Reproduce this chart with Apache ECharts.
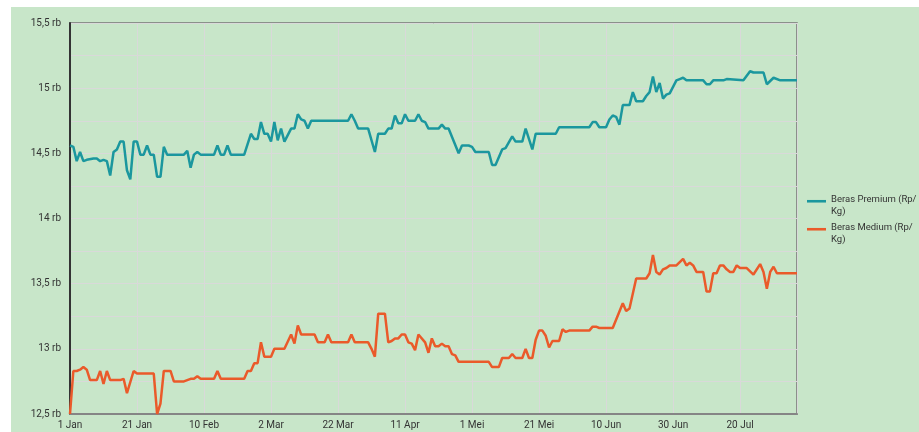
<!DOCTYPE html>
<html>
<head>
<meta charset="utf-8">
<script src="https://cdn.jsdelivr.net/npm/echarts@6/dist/echarts.min.js"></script>
<style>
  html, body { margin: 0; padding: 0; background: #ffffff; }
  #bg { position: absolute; left: 11px; top: 7px; width: 908px; height: 425px; background: #c8e6c9; }
  #chart { position: absolute; left: 0; top: 0; width: 919px; height: 432px; }
</style>
</head>
<body>
<div id="bg"></div>
<div id="chart"></div>
<script>
// day offsets from 1 Jan, and price at that day
const premiumDays = [0,1,2,3,4,5,7,8,9,10,11,12,13,14,15,16,17,18,19,20,21,22,23,24,25,26,27,28,29,34,35,36,37,38,39,43,44,45,46,47,48,52,54,55,56,57,58,59,60,61,62,63,64,65,66,67,68,69,70,71,72,83,84,85,86,89,91,92,94,95,96,97,98,99,100,101,103,104,105,106,107,110,111,112,113,116,117,119,120,121,125,126,127,129,130,132,133,135,136,138,139,145,146,155,156,157,158,160,161,162,163,164,165,167,168,169,171,172,173,174,175,176,177,178,179,181,182,183,184,185,189,190,191,192,195,196,201,203,204,207,208,210,212,217];
const premiumValues = [14560,14550,14440,14510,14440,14450,14460,14460,14440,14450,14440,14330,14510,14530,14590,14590,14370,14300,14590,14590,14490,14490,14560,14490,14490,14320,14320,14550,14490,14490,14520,14390,14490,14510,14490,14490,14560,14490,14490,14560,14490,14490,14650,14610,14610,14740,14650,14650,14590,14740,14600,14690,14590,14640,14690,14690,14800,14760,14750,14690,14750,14750,14800,14750,14690,14690,14510,14650,14650,14690,14690,14790,14730,14730,14800,14750,14750,14800,14750,14740,14690,14690,14720,14690,14690,14500,14560,14560,14550,14510,14510,14410,14410,14530,14540,14630,14590,14590,14690,14530,14650,14650,14700,14700,14740,14740,14700,14700,14760,14790,14780,14720,14870,14870,14970,14900,14900,14940,14970,15090,14970,15040,14920,14950,14960,15060,15070,15080,15060,15060,15060,15030,15030,15060,15060,15070,15060,15130,15120,15120,15030,15080,15060,15060];

const mediumDays = [0,1,2,3,4,5,6,8,9,10,11,12,15,16,17,19,20,25,26,27,28,30,31,34,35,36,37,38,39,43,44,45,52,53,54,55,56,57,58,60,61,64,66,67,68,69,73,74,76,77,78,83,84,85,89,90,91,92,94,95,96,97,98,99,100,101,102,103,104,106,107,108,109,110,111,112,113,114,115,116,125,126,128,129,131,132,133,135,136,137,138,139,140,141,142,143,144,146,147,148,149,155,156,157,158,162,165,166,167,169,172,173,174,175,176,177,178,179,181,183,184,185,186,187,189,190,191,192,193,194,195,196,197,198,199,200,202,204,206,207,208,209,210,211,212,217];
const mediumValues = [12500,12830,12830,12840,12860,12840,12760,12760,12830,12730,12830,12760,12760,12770,12660,12830,12810,12810,12500,12580,12830,12830,12750,12750,12760,12770,12770,12790,12770,12770,12830,12770,12770,12830,12830,12890,12890,13050,12940,12940,13000,13000,13110,13040,13180,13110,13110,13050,13050,13110,13050,13050,13110,13050,13050,13000,12940,13270,13270,13050,13060,13080,13080,13110,13110,13050,13040,12990,13110,13050,12970,13080,13020,13020,13040,13020,13020,12960,12950,12900,12900,12860,12860,12930,12930,12960,12930,12930,13000,12930,12930,13070,13140,13140,13100,13010,13060,13060,13150,13130,13140,13140,13170,13170,13160,13160,13350,13290,13310,13540,13540,13580,13720,13590,13570,13610,13620,13640,13640,13690,13640,13660,13640,13590,13590,13440,13440,13580,13580,13640,13640,13610,13590,13590,13640,13620,13620,13570,13650,13590,13460,13590,13630,13580,13580,13580];

// x tick labels, one every 20 days
const xLabels = ['1 Jan','21 Jan','10 Feb','2 Mar','22 Mar','11 Apr','1 Mei','21 Mei','10 Jun','30 Jun','20 Jul'];

const pair = (days, vals) => days.map((d, i) => [d, vals[i]]);

const chart = echarts.init(document.getElementById('chart'));

const option = {
  animation: false,
  textStyle: { fontFamily: 'Roboto' },
  grid: {
    left: 70, right: 122, top: 23, bottom: 18,
    show: true, borderColor: '#757575', borderWidth: 1.5
  },
  legend: {
    orient: 'vertical',
    left: 807,
    top: 194,
    padding: 0,
    itemWidth: 19,
    itemHeight: 24,
    itemGap: 4,
    // thin bar at the top of the box so it lines up with the first text line
    icon: 'path://M0,0L0,0M0,5L22,5L22,8L0,8ZM22,24L22,24',
    itemStyle: { borderWidth: 0 },
    textStyle: { fontSize: 9.5, color: '#333', lineHeight: 12 },
    formatter: name => name.replace('/', '/\n')
  },
  xAxis: {
    type: 'value',
    min: 0,
    max: 217,
    interval: 20,
    axisLine: { lineStyle: { color: '#858585', width: 2 } },
    axisTick: { show: false },
    splitLine: { lineStyle: { color: '#d9d9d9', width: 1 } },
    axisLabel: {
      fontSize: 10, color: '#333', margin: 6,
      formatter: v => (v % 20 === 0 && xLabels[v / 20]) ? xLabels[v / 20] : ''
    }
  },
  yAxis: {
    type: 'value',
    min: 12500,
    max: 15500,
    interval: 250,
    axisLine: { show: true, lineStyle: { color: '#333', width: 2 } },
    axisTick: { show: false },
    splitLine: { lineStyle: { color: '#d9d9d9', width: 1 } },
    axisLabel: {
      fontSize: 10, color: '#333', margin: 9,
      formatter: v => v % 500 === 0 ? String(v / 1000).replace('.', ',') + ' rb' : ''
    }
  },
  series: [
    {
      name: 'Beras Premium (Rp/Kg)',
      type: 'line',
      data: pair(premiumDays, premiumValues),
      showSymbol: false,
      color: '#1b979e',
      lineStyle: { width: 2.5 }
    },
    {
      name: 'Beras Medium (Rp/Kg)',
      type: 'line',
      data: pair(mediumDays, mediumValues),
      showSymbol: false,
      color: '#ea5a2a',
      lineStyle: { width: 2.5 }
    }
  ]
};

chart.setOption(option);
</script>
</body>
</html>
